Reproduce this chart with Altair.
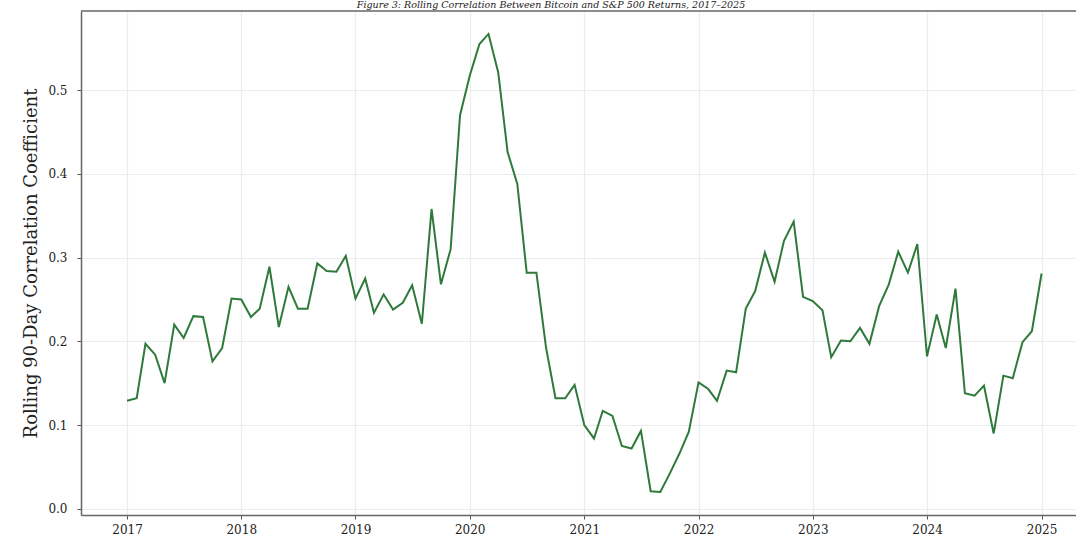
import altair as alt
import pandas as pd

# Monthly rolling 90-day correlation values, Jan 2017 .. Jan 2025
values_2017 = [0.129, 0.132, 0.197, 0.184, 0.150, 0.220, 0.204, 0.230, 0.229, 0.176, 0.192, 0.251]
values_2018 = [0.250, 0.229, 0.239, 0.289, 0.217, 0.265, 0.239, 0.239, 0.293, 0.284, 0.283, 0.302]
values_2019 = [0.251, 0.275, 0.234, 0.256, 0.238, 0.246, 0.267, 0.221, 0.358, 0.268, 0.310, 0.470]
values_2020 = [0.517, 0.555, 0.567, 0.521, 0.426, 0.388, 0.282, 0.282, 0.192, 0.132, 0.132, 0.148]
values_2021 = [0.100, 0.084, 0.117, 0.111, 0.075, 0.072, 0.093, 0.021, 0.020, 0.042, 0.066, 0.092]
values_2022 = [0.151, 0.143, 0.129, 0.165, 0.163, 0.239, 0.260, 0.306, 0.271, 0.320, 0.343, 0.253]
values_2023 = [0.248, 0.237, 0.181, 0.201, 0.200, 0.216, 0.197, 0.242, 0.268, 0.307, 0.282, 0.316]
values_2024 = [0.182, 0.232, 0.192, 0.263, 0.138, 0.135, 0.147, 0.090, 0.159, 0.156, 0.199, 0.212]
values_2025 = [0.281]

values = (values_2017 + values_2018 + values_2019 + values_2020 + values_2021
          + values_2022 + values_2023 + values_2024 + values_2025)
dates = pd.date_range("2017-01-01", periods=len(values), freq="MS").strftime("%Y-%m-%d").tolist()

year_ticks = [2017, 2018, 2019, 2020, 2021, 2022, 2023, 2024, 2025]
y_ticks = [0.0, 0.1, 0.2, 0.3, 0.4, 0.5]

title_text = "Figure 3: Rolling Correlation Between Bitcoin and S&P 500 Returns, 2017\u20132025"
y_title = "Rolling 90-Day Correlation Coefficient"

df = pd.DataFrame({"date": dates, "corr": values})

W = 995
H = 504
FONT = "DejaVu Serif"

x_enc = alt.X(
    "date:T",
    scale=alt.Scale(
        type="utc",
        domain=[alt.DateTime(year=2016, month=8, date=7, utc=True),
                alt.DateTime(year=2025, month=4, date=21, utc=True)],
    ),
    axis=alt.Axis(
        values=[alt.DateTime(year=y, month=1, date=1, utc=True) for y in year_ticks],
        format="%Y",
        title=None,
        labelPadding=5,
    ),
)
y_enc = alt.Y(
    "corr:Q",
    scale=alt.Scale(domain=[-0.0074, 0.5944], nice=False, zero=False),
    axis=alt.Axis(values=y_ticks, format=".1f", title=y_title, labelPadding=10,
                  titlePadding=7, titleFontSize=18),
)

line = alt.Chart(df).mark_line(color="#2f7a3b", strokeWidth=2).encode(x=x_enc, y=y_enc)

one_row = pd.DataFrame({"k": [0]})

frame_top = alt.Chart(one_row).mark_rule(color="#666666", strokeWidth=1.5).encode(
    x=alt.value(0), x2=alt.value(W), y=alt.value(0)
)

title_mark = alt.Chart(one_row).mark_text(
    font=FONT, fontSize=9.5, fontStyle="italic", color="#222222",
    align="center", baseline="bottom",
).encode(x=alt.value(470), y=alt.value(-1.5), text=alt.value(title_text))

chart = alt.layer(line, frame_top, title_mark).properties(
    width=W,
    height=H,
    background="white",
    autosize=alt.AutoSizeParams(type="none"),
    padding={"left": 81, "top": 11, "right": 0, "bottom": 34},
).configure_view(
    stroke=None
).configure_axis(
    labelFont=FONT, labelFontSize=12, labelColor="#222222",
    titleFont=FONT, titleFontWeight="normal", titleColor="#222222",
    domainColor="#666666", domainWidth=1.5,
    tickColor="#555555", tickSize=4, tickWidth=1,
    gridColor="#ececec", gridWidth=1.2,
)

chart.save("out.html", embed_options={"renderer": "svg", "actions": False})
